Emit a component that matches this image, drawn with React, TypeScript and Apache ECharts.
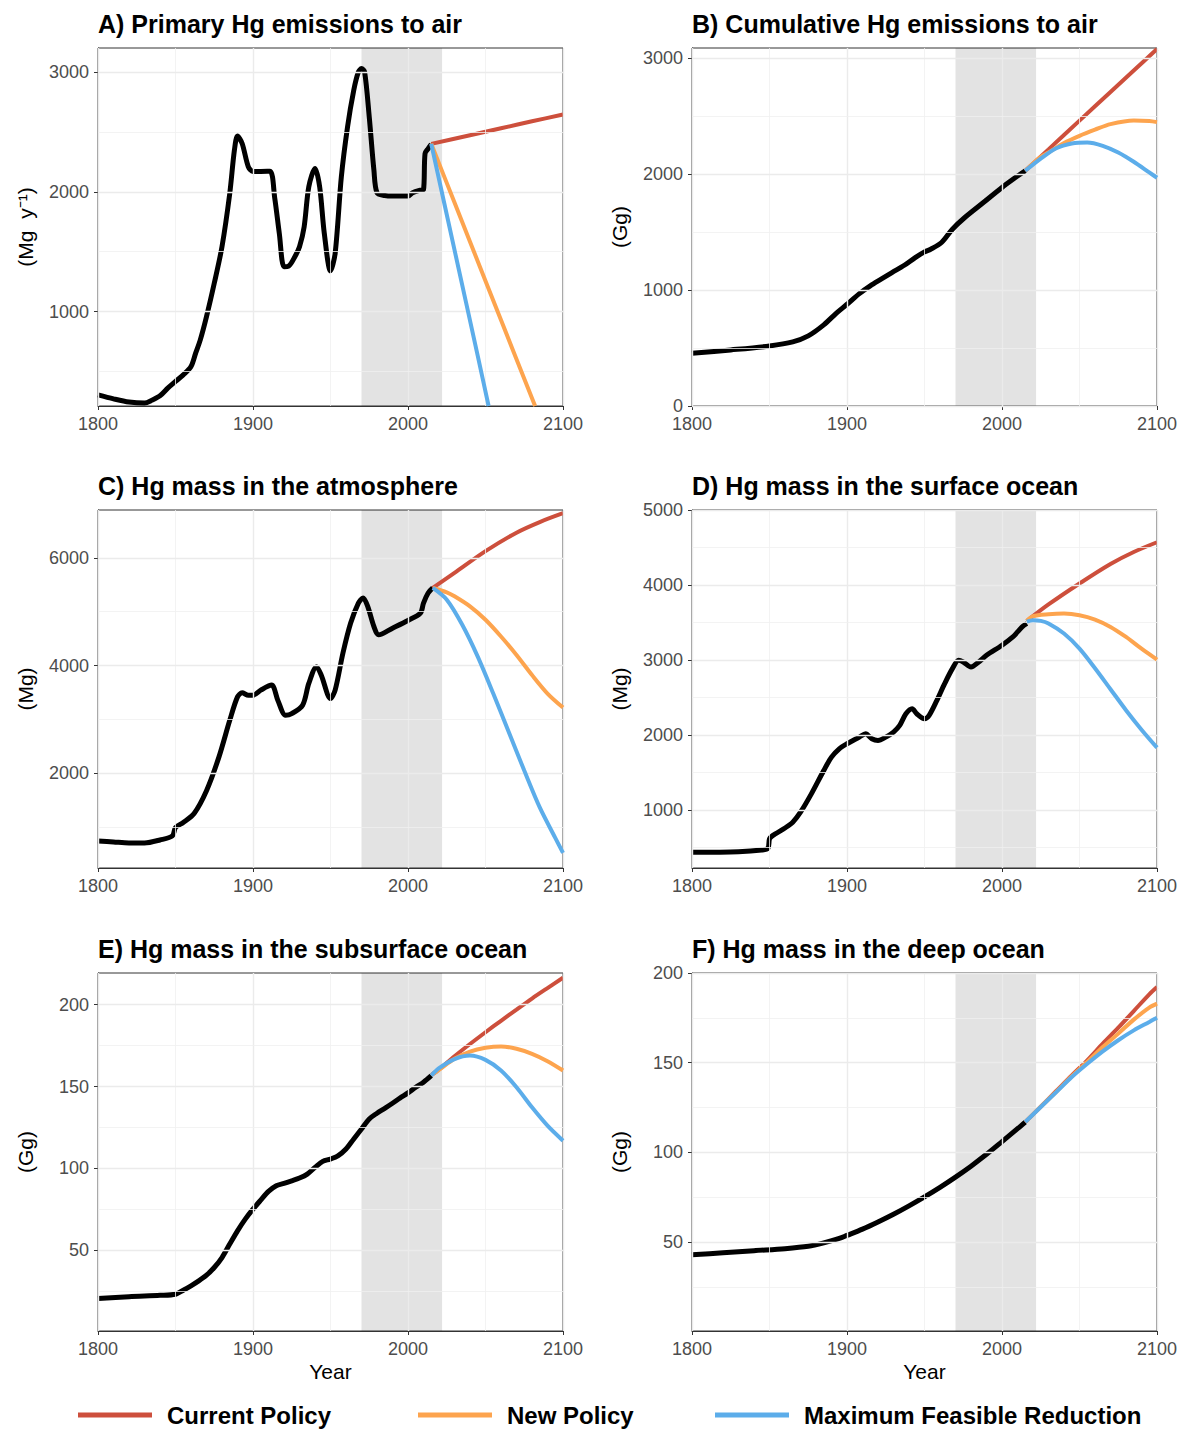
import React, { useEffect, useRef } from "react";
import * as echarts from "echarts";

// ---------- colours ----------
const RED = "#cd4f3c";
const ORANGE = "#fda44e";
const BLUE = "#5cadea";
const FONT = "'Liberation Sans', Arial, sans-serif";

// ---------- shared axis values ----------
const X_MIN = 1800;
const X_MAX = 2100;
const X_LABELS = [1800, 1900, 2000, 2100];
const X_MINOR = [1850, 1950, 2050];
const BAND_START = 1970;
const BAND_END = 2022;

const LEGEND_NAMES = ["Current Policy", "New Policy", "Maximum Feasible Reduction"];

// ---------- A) Primary Hg emissions to air (Mg/y) ----------
const aHist: [number, number][] = [
  [1800, 305], [1810, 272], [1820, 245], [1830, 236], [1835, 262], [1840, 297], [1845, 361],
  [1850, 417], [1855, 472], [1860, 541], [1863, 653], [1866, 764], [1870, 958], [1875, 1236],
  [1880, 1542], [1885, 1986], [1888, 2347], [1890, 2465], [1893, 2403], [1897, 2208],
  [1900, 2170], [1905, 2170], [1911, 2172], [1914, 1950], [1917, 1650], [1920, 1375],
  [1923, 1380], [1927, 1458], [1930, 1542], [1933, 1708], [1936, 2042], [1940, 2194],
  [1943, 2042], [1946, 1653], [1950, 1340], [1953, 1486], [1957, 2125], [1961, 2542],
  [1965, 2847], [1968, 3000], [1970, 3028], [1972, 3000], [1975, 2625], [1978, 2181],
  [1980, 1992], [1985, 1969], [1990, 1964], [2000, 1964], [2003, 1992], [2008, 2014],
  [2010, 2019], [2011, 2319], [2013, 2361], [2015, 2397],
];
const aRed: [number, number][] = [[2015, 2400], [2040, 2472], [2060, 2530], [2080, 2588], [2100, 2645]];
const aOrange: [number, number][] = [[2015, 2400], [2030, 1910], [2050, 1256], [2070, 603], [2082, 212]];
const aBlue: [number, number][] = [[2015, 2400], [2030, 1515], [2045, 630], [2052, 212]];
const aYLabels = [1000, 2000, 3000];
const aYMinor = [500, 1500, 2500];

// ---------- B) Cumulative Hg emissions to air (Gg) ----------
const bHist: [number, number][] = [
  [1800, 455], [1825, 484], [1850, 518], [1865, 553], [1875, 605], [1885, 700], [1893, 800],
  [1900, 878], [1908, 970], [1915, 1037], [1922, 1095], [1929, 1152], [1937, 1215],
  [1944, 1281], [1950, 1330], [1954, 1353], [1961, 1411], [1968, 1526], [1976, 1627],
  [1988, 1756], [2000, 1886], [2008, 1965], [2015, 2030],
];
const bRed: [number, number][] = [[2015, 2030], [2030, 2215], [2050, 2463], [2070, 2710], [2085, 2895], [2100, 3081]];
const bOrange: [number, number][] = [
  [2015, 2030], [2025, 2150], [2030, 2188], [2040, 2270], [2050, 2332], [2060, 2385],
  [2070, 2433], [2085, 2465], [2095, 2460], [2100, 2450],
];
const bBlue: [number, number][] = [
  [2015, 2030], [2025, 2135], [2035, 2225], [2045, 2266], [2055, 2275], [2065, 2246],
  [2075, 2188], [2085, 2108], [2095, 2016], [2100, 1970],
];
const bYLabels = [0, 1000, 2000, 3000];
const bYMinor = [500, 1500, 2500];

// ---------- C) Hg mass in the atmosphere (Mg) ----------
const cHist: [number, number][] = [
  [1800, 743], [1810, 724], [1820, 705], [1830, 705], [1840, 761], [1848, 836], [1850, 992],
  [1855, 1085], [1862, 1253], [1870, 1676], [1878, 2299], [1885, 2983], [1890, 3419],
  [1893, 3494], [1897, 3450], [1900, 3450], [1905, 3544], [1912, 3637], [1916, 3357],
  [1921, 3077], [1925, 3108], [1932, 3264], [1936, 3668], [1941, 3979], [1944, 3824],
  [1950, 3388], [1953, 3544], [1958, 4228], [1963, 4789], [1968, 5162], [1971, 5256],
  [1974, 5100], [1978, 4726], [1981, 4571], [1990, 4695], [2000, 4838], [2008, 4975],
  [2010, 5162], [2013, 5349], [2016, 5442],
];
const cRed: [number, number][] = [[2016, 5442], [2030, 5722], [2050, 6125], [2070, 6469], [2085, 6666], [2100, 6830]];
const cOrange: [number, number][] = [
  [2016, 5442], [2025, 5361], [2030, 5287], [2040, 5100], [2050, 4851], [2060, 4540],
  [2070, 4197], [2080, 3824], [2090, 3481], [2100, 3220],
];
const cBlue: [number, number][] = [
  [2016, 5442], [2025, 5224], [2035, 4758], [2045, 4166], [2055, 3481], [2065, 2766],
  [2075, 2050], [2085, 1365], [2095, 800], [2100, 520],
];
const cYLabels = [2000, 4000, 6000];
const cYMinor = [1000, 3000, 5000];

// ---------- D) Hg mass in the surface ocean (Mg) ----------
const dHist: [number, number][] = [
  [1800, 434], [1830, 443], [1845, 465], [1849, 488], [1850, 612], [1852, 657], [1860, 759],
  [1865, 835], [1870, 969], [1877, 1214], [1885, 1526], [1890, 1704], [1895, 1815],
  [1900, 1882], [1908, 1971], [1912, 2016], [1916, 1949], [1920, 1927], [1925, 1971],
  [1930, 2038], [1934, 2127], [1938, 2283], [1942, 2350], [1945, 2283], [1950, 2216],
  [1953, 2261], [1958, 2461], [1963, 2684], [1968, 2884], [1972, 2996], [1975, 2973],
  [1980, 2906], [1985, 2973], [1990, 3062], [2000, 3196], [2007, 3307], [2010, 3374],
  [2013, 3441], [2016, 3486],
];
const dRed: [number, number][] = [[2016, 3520], [2030, 3740], [2050, 4020], [2070, 4280], [2085, 4440], [2100, 4570]];
const dOrange: [number, number][] = [
  [2016, 3520], [2020, 3584], [2030, 3610], [2040, 3619], [2050, 3597], [2060, 3539],
  [2070, 3441], [2080, 3307], [2090, 3151], [2100, 3005],
];
const dBlue: [number, number][] = [
  [2016, 3510], [2020, 3530], [2025, 3521], [2030, 3486], [2040, 3352], [2050, 3151],
  [2060, 2890], [2070, 2610], [2080, 2330], [2090, 2070], [2100, 1830],
];
const dYLabels = [1000, 2000, 3000, 4000, 5000];
const dYMinor = [500, 1500, 2500, 3500, 4500];

// ---------- E) Hg mass in the subsurface ocean (Gg) ----------
const eHist: [number, number][] = [
  [1800, 20.4], [1820, 21.6], [1840, 22.4], [1850, 23.1], [1855, 25.5], [1860, 28.2],
  [1865, 31.2], [1870, 34.7], [1875, 39.4], [1880, 45.5], [1885, 53.7], [1890, 61.8],
  [1895, 69], [1900, 75.1], [1905, 80.6], [1910, 85.9], [1915, 89.4], [1920, 90.8],
  [1925, 92.4], [1930, 94.1], [1935, 96.5], [1940, 100.6], [1945, 104.3], [1950, 105.7],
  [1955, 107.8], [1960, 111.8], [1965, 118], [1970, 124.1], [1975, 130.2], [1980, 133.7],
  [1985, 136.7], [1990, 139.8], [1995, 143.1], [2000, 146.1], [2005, 149.6], [2010, 152.7],
  [2015, 156.7],
];
const eRed: [number, number][] = [
  [2015, 157], [2020, 160.5], [2030, 168.5], [2040, 176], [2050, 183.2], [2060, 190.2],
  [2070, 197], [2080, 203.8], [2090, 210.2], [2100, 216.5],
];
const eOrange: [number, number][] = [
  [2015, 157], [2020, 160.2], [2030, 167], [2040, 171.4], [2050, 173.7], [2060, 174.5],
  [2070, 173.1], [2080, 170], [2090, 165.5], [2100, 159.8],
];
const eBlue: [number, number][] = [
  [2015, 156.7], [2020, 161.2], [2030, 166.8], [2040, 169], [2050, 166.3], [2060, 159.8],
  [2070, 149.6], [2080, 137.3], [2090, 126.1], [2100, 116.9],
];
const eYLabels = [50, 100, 150, 200];
const eYMinor = [25, 75, 125, 175];

// ---------- F) Hg mass in the deep ocean (Gg) ----------
const fHist: [number, number][] = [
  [1800, 42.9], [1820, 44], [1840, 45.2], [1860, 46.3], [1875, 47.6], [1885, 49.5],
  [1895, 52], [1900, 53.7], [1910, 57.2], [1920, 61.2], [1930, 65.5], [1940, 70.2],
  [1950, 75.2], [1960, 80.5], [1970, 86.2], [1980, 92.3], [1990, 98.9], [2000, 106],
  [2010, 113.2], [2015, 116.9],
];
const fRed: [number, number][] = [
  [2015, 116.9], [2025, 125.5], [2035, 134.2], [2045, 142.9], [2055, 151.3], [2065, 160.6],
  [2075, 169.5], [2085, 178.8], [2095, 188.1], [2100, 192.2],
];
const fOrange: [number, number][] = [
  [2015, 116.9], [2025, 125.4], [2035, 133.8], [2045, 142.4], [2055, 150.4], [2065, 158.7],
  [2075, 166.2], [2085, 174], [2095, 180.7], [2100, 182.9],
];
const fBlue: [number, number][] = [
  [2015, 116.9], [2025, 125.3], [2035, 133.6], [2045, 142], [2055, 149.4], [2065, 156.3],
  [2075, 162.5], [2085, 168], [2095, 172.7], [2100, 175.1],
];
const fYLabels = [50, 100, 150, 200];
const fYMinor = [25, 75, 125, 175];

type Panel = {
  title: string;
  yName: string;
  yMin: number;
  yMax: number;
  yLabels: number[];
  yMinor: number[];
  hist: [number, number][];
  red: [number, number][];
  orange: [number, number][];
  blue: [number, number][];
  col: number;
  row: number;
};

const PANELS: Panel[] = [
  { title: "A) Primary Hg emissions to air", yName: "(Mg  y\u207B\u00B9)", yMin: 212, yMax: 3200, yLabels: aYLabels, yMinor: aYMinor, hist: aHist, red: aRed, orange: aOrange, blue: aBlue, col: 0, row: 0 },
  { title: "B) Cumulative Hg emissions to air", yName: "(Gg)", yMin: 0, yMax: 3090, yLabels: bYLabels, yMinor: bYMinor, hist: bHist, red: bRed, orange: bOrange, blue: bBlue, col: 1, row: 0 },
  { title: "C) Hg mass in the atmosphere", yName: "(Mg)", yMin: 240, yMax: 6890, yLabels: cYLabels, yMinor: cYMinor, hist: cHist, red: cRed, orange: cOrange, blue: cBlue, col: 0, row: 1 },
  { title: "D) Hg mass in the surface ocean", yName: "(Mg)", yMin: 225, yMax: 5000, yLabels: dYLabels, yMinor: dYMinor, hist: dHist, red: dRed, orange: dOrange, blue: dBlue, col: 1, row: 1 },
  { title: "E) Hg mass in the subsurface ocean", yName: "(Gg)", yMin: 0.6, yMax: 219.4, yLabels: eYLabels, yMinor: eYMinor, hist: eHist, red: eRed, orange: eOrange, blue: eBlue, col: 0, row: 2 },
  { title: "F) Hg mass in the deep ocean", yName: "(Gg)", yMin: 0.4, yMax: 200, yLabels: fYLabels, yMinor: fYMinor, hist: fHist, red: fRed, orange: fOrange, blue: fBlue, col: 1, row: 2 },
];

const COL_LEFT = [98, 692];
const ROW_TOP = [48, 510, 973];
const PANEL_W = 465;
const PANEL_H = 358;

const plainNumber = (v: number) => String(v);

function buildOption() {
  const grids: any[] = [];
  const xAxes: any[] = [];
  const yAxes: any[] = [];
  const series: any[] = [];
  const titles: any[] = [];

  const majorLine = { color: "#ebebeb", width: 1.4, type: "solid" };
  const minorLine = { color: "#f0f0f0", width: 0.8, type: "solid" };

  PANELS.forEach((p, i) => {
    const left = COL_LEFT[p.col];
    const top = ROW_TOP[p.row];
    grids.push({
      left,
      top,
      width: PANEL_W,
      height: PANEL_H,
      show: true,
      backgroundColor: "#ffffff",
      borderColor: "#333333",
      borderWidth: 1,
    });
    titles.push({
      text: p.title,
      left,
      top: top - 37,
      padding: 0,
      textStyle: { fontFamily: FONT, fontSize: 25, fontWeight: "bold", color: "#000" },
    });
    xAxes.push({
      type: "value",
      gridIndex: i,
      min: X_MIN,
      max: X_MAX,
      name: p.row === 2 ? "Year" : "",
      nameLocation: "middle",
      nameGap: 30,
      nameTextStyle: { fontFamily: FONT, fontSize: 21, color: "#000" },
      axisLine: { show: true, onZero: false, lineStyle: { color: "#333333", width: 1 } },
      axisTick: { show: true, length: 4, customValues: X_LABELS, lineStyle: { color: "#333333" } },
      axisLabel: { customValues: X_LABELS, formatter: plainNumber, fontFamily: FONT, fontSize: 18, color: "#4d4d4d", margin: 9 },
      splitLine: { show: false },
    });
    yAxes.push({
      type: "value",
      gridIndex: i,
      min: p.yMin,
      max: p.yMax,
      name: p.yName,
      nameLocation: "middle",
      nameGap: 62,
      nameRotate: 90,
      nameTextStyle: { fontFamily: FONT, fontSize: 21, color: "#000" },
      axisLine: { show: true, onZero: false, lineStyle: { color: "#333333", width: 1 } },
      axisTick: { show: true, length: 4, customValues: p.yLabels, lineStyle: { color: "#333333" } },
      axisLabel: { customValues: p.yLabels, formatter: plainNumber, fontFamily: FONT, fontSize: 18, color: "#4d4d4d", margin: 9 },
      splitLine: { show: false },
    });

    const gridData: any[] = [];
    X_LABELS.forEach((v) => gridData.push({ xAxis: v, lineStyle: majorLine }));
    X_MINOR.forEach((v) => gridData.push({ xAxis: v, lineStyle: minorLine }));
    p.yLabels.forEach((v) => gridData.push({ yAxis: v, lineStyle: majorLine }));
    p.yMinor.forEach((v) => gridData.push({ yAxis: v, lineStyle: minorLine }));

    series.push({
      type: "line",
      name: "gridlines",
      xAxisIndex: i,
      yAxisIndex: i,
      data: [],
      silent: true,
      z: 1,
      markLine: {
        silent: true,
        symbol: ["none", "none"],
        label: { show: false },
        lineStyle: { type: "solid" },
        emphasis: { disabled: true },
        data: gridData,
      },
    });
    series.push({
      type: "line",
      name: "period",
      xAxisIndex: i,
      yAxisIndex: i,
      data: [],
      silent: true,
      z: 2,
      markArea: {
        silent: true,
        itemStyle: { color: "rgba(0,0,0,0.11)" },
        emphasis: { disabled: true },
        data: [[{ xAxis: BAND_START }, { xAxis: BAND_END }]],
      },
    });

    const common = {
      type: "line",
      xAxisIndex: i,
      yAxisIndex: i,
      showSymbol: false,
      symbol: "none",
      silent: true,
      clip: true,
      smooth: 0.3,
    };
    series.push({ ...common, name: "Historical", data: p.hist, z: 3, lineStyle: { color: "#000", width: 5, join: "round" } });
    series.push({ ...common, name: LEGEND_NAMES[0], data: p.red, z: 4, lineStyle: { color: RED, width: 4 } });
    series.push({ ...common, name: LEGEND_NAMES[1], data: p.orange, z: 5, lineStyle: { color: ORANGE, width: 4 } });
    series.push({ ...common, name: LEGEND_NAMES[2], data: p.blue, z: 6, lineStyle: { color: BLUE, width: 4 } });
  });

  const legendColors = [RED, ORANGE, BLUE];
  const legendX = [78, 418, 715];
  const legendY = 1415;
  const graphic: any[] = [];
  LEGEND_NAMES.forEach((name, k) => {
    graphic.push({
      type: "line",
      shape: { x1: legendX[k], y1: legendY, x2: legendX[k] + 74, y2: legendY },
      style: { stroke: legendColors[k], lineWidth: 5 },
      silent: true,
    });
    graphic.push({
      type: "text",
      x: legendX[k] + 89,
      y: legendY,
      style: {
        text: name,
        fontFamily: FONT,
        fontSize: 24,
        fontWeight: "bold",
        fill: "#000",
        verticalAlign: "middle",
        align: "left",
      },
      silent: true,
    });
  });

  return {
    animation: false,
    backgroundColor: "#ffffff",
    textStyle: { fontFamily: FONT },
    title: titles,
    grid: grids,
    xAxis: xAxes,
    yAxis: yAxes,
    series,
    graphic,
  };
}

export default function App() {
  const ref = useRef<HTMLDivElement>(null);
  useEffect(() => {
    document.body.style.margin = "0";
    if (!ref.current) return;
    const chart = echarts.init(ref.current, undefined, { renderer: "svg" });
    chart.setOption(buildOption() as any);
    return () => {
      chart.dispose();
    };
  }, []);
  return <div ref={ref} style={{ width: 1183, height: 1430 }} />;
}
